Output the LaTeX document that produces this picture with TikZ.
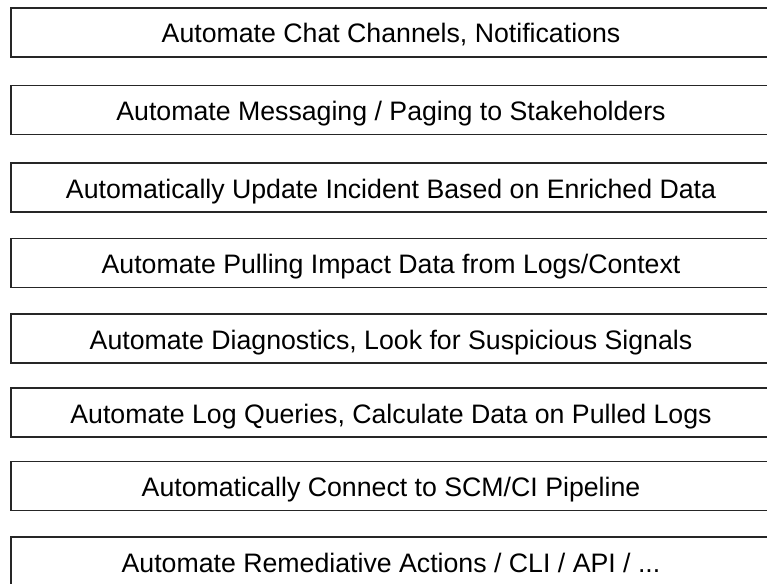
\documentclass[tikz,border=0pt]{standalone}
\usepackage{fontspec}
\setmainfont{Liberation Sans}
\begin{document}
\begin{tikzpicture}[x=1pt,y=-1pt,
  stepbox/.style={draw=black!85, line width=1.1pt, minimum width=760pt, minimum height=49pt,
    inner sep=0pt, text height=21pt, text depth=0pt, font=\fontsize{26.7}{32}\selectfont, text=black}]
\useasboundingbox (0,0) rectangle (767,583);
\clip (0,0) rectangle (767,583);
\node[stepbox] (b1) at (391,32.5) {Automate Chat Channels, Notifications};
\node[stepbox] (b2) at (391,110) {Automate Messaging / Paging to Stakeholders};
\node[stepbox] (b3) at (391,187.5) {Automatically Update Incident Based on Enriched Data};
\node[stepbox] (b4) at (391,263) {Automate Pulling Impact Data from Logs/Context};
\node[stepbox] (b5) at (391,338.5) {Automate Diagnostics, Look for Suspicious Signals};
\node[stepbox] (b6) at (391,412.5) {Automate Log Queries, Calculate Data on Pulled Logs};
\node[stepbox] (b7) at (391,486) {Automatically Connect to SCM/CI Pipeline};
\node[stepbox] (b8) at (391,561.5) {Automate Remediative Actions / CLI / API / ...};
\end{tikzpicture}
\end{document}
